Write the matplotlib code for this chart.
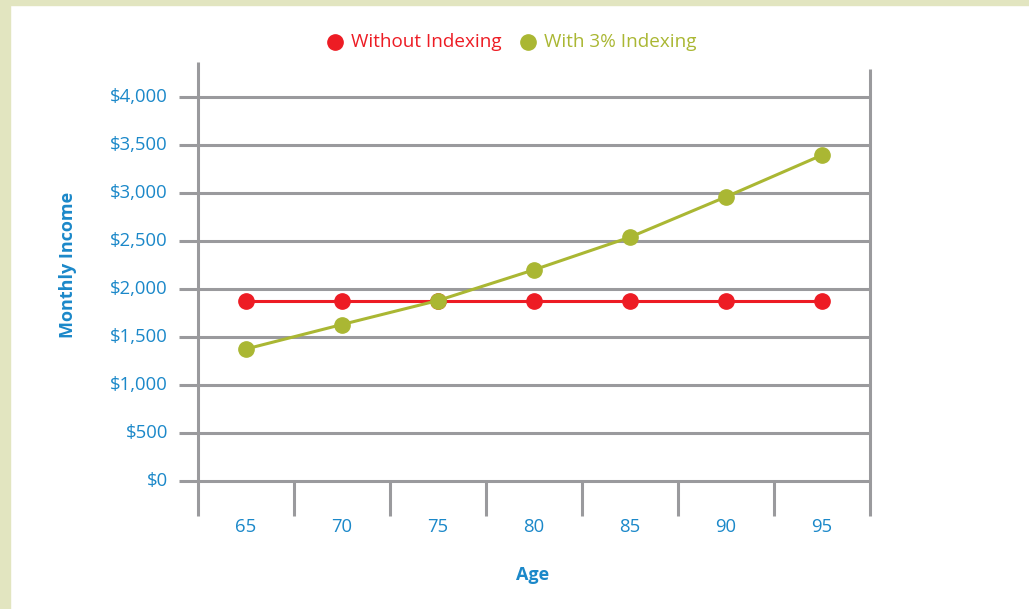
import matplotlib
matplotlib.use("Agg")
import matplotlib.pyplot as plt
from matplotlib.patches import Rectangle

ages = ["65", "70", "75", "80", "85", "90", "95"]
without_indexing = [1880, 1880, 1880, 1880, 1880, 1880, 1880]
with_indexing = [1375, 1630, 1880, 2200, 2540, 2960, 3395]
y_ticks = [0, 500, 1000, 1500, 2000, 2500, 3000, 3500, 4000]
y_labels = ["$0", "$500", "$1,000", "$1,500", "$2,000", "$2,500", "$3,000", "$3,500", "$4,000"]

RED = "#ed1c24"
GREEN = "#aab733"
BLUE = "#1b88c9"
GRAY = "#9a9a9d"
BORDER = "#e2e5c0"
FONT = "Open Sans"

W, H = 1029, 609
fig = plt.figure(figsize=(W / 100, H / 100), dpi=100)
fig.patch.set_facecolor("white")
# border strips
fig.patches.append(Rectangle((0, 0), 10 / W, 1, transform=fig.transFigure, color=BORDER, zorder=0))
fig.patches.append(Rectangle((0, 1 - 5 / H), 1, 5 / H, transform=fig.transFigure, color=BORDER, zorder=0))

x0, x1 = 198, 870
ytop, ybot = 62, 516
ax = fig.add_axes([x0 / W, 1 - ybot / H, (x1 - x0) / W, (ybot - ytop) / H])
ppu = 0.096  # pixels per dollar
ax.set_ylim(-(ybot - 481) / ppu, (481 - ytop) / ppu)
ax.set_xlim(0, len(ages))
for s in ax.spines.values():
    s.set_visible(False)
ax.set_xticks([])
ax.set_yticks([])

LW = 2.2
trans = ax.get_yaxis_transform()
left_ext = (x0 - 179) / (x1 - x0)
for v in y_ticks:
    ax.plot([-left_ext, 1], [v, v], transform=trans, color=GRAY, lw=LW, clip_on=False, zorder=1,
            solid_capstyle="butt")
# left spine
ax.plot([0, 0], [ax.get_ylim()[0], ax.get_ylim()[1]], color=GRAY, lw=LW, clip_on=False, zorder=1,
        solid_capstyle="butt")
# right spine (slightly shorter)
ax.plot([len(ages), len(ages)], [ax.get_ylim()[0], (481 - 69) / ppu], color=GRAY, lw=LW,
        clip_on=False, zorder=1, solid_capstyle="butt")
# category separators below axis
for b in range(1, len(ages)):
    ax.plot([b, b], [ax.get_ylim()[0], 0], color=GRAY, lw=LW, clip_on=False, zorder=1,
            solid_capstyle="butt")

xs = [i + 0.5 for i in range(len(ages))]
ax.plot(xs, without_indexing, color=RED, lw=2.2, marker="o", ms=11, mec=RED, mfc=RED, zorder=3,
        label="Without Indexing")
ax.plot(xs, with_indexing, color=GREEN, lw=2.2, marker="o", ms=11, mec=GREEN, mfc=GREEN, zorder=4,
        label="With 3% Indexing")

TS = 13.3
for v, lab in zip(y_ticks, y_labels):
    ax.text(-(x0 - 168) / (x1 - x0), v, lab, transform=trans, ha="right", va="center",
            fontsize=TS, color=BLUE, family=FONT)
xtrans = ax.get_xaxis_transform()
for x, lab in zip(xs, ages):
    ax.text(x, 1 - (527 - ytop) / (ybot - ytop), lab, transform=xtrans, ha="center", va="center",
            fontsize=TS, color=BLUE, family=FONT)

fig.text(68 / W, 1 - 265 / H, "Monthly Income", rotation=90, ha="center", va="center",
         fontsize=13, fontweight="bold", color=BLUE, family=FONT)
fig.text(533 / W, 1 - 575 / H, "Age", ha="center", va="center",
         fontsize=13, fontweight="bold", color=BLUE, family=FONT)

# legend
ly = 1 - 42 / H
fig.lines.append(plt.Line2D([335 / W], [ly], transform=fig.transFigure, marker="o", ms=11,
                            color=RED, ls="none"))
fig.text(351 / W, ly, "Without Indexing", ha="left", va="center", fontsize=13.6, color=RED, family=FONT)
fig.lines.append(plt.Line2D([528 / W], [ly], transform=fig.transFigure, marker="o", ms=11,
                            color=GREEN, ls="none"))
fig.text(544 / W, ly, "With 3% Indexing", ha="left", va="center", fontsize=13.6, color=GREEN, family=FONT)

fig.savefig("out.png", dpi=100, facecolor=fig.get_facecolor())
